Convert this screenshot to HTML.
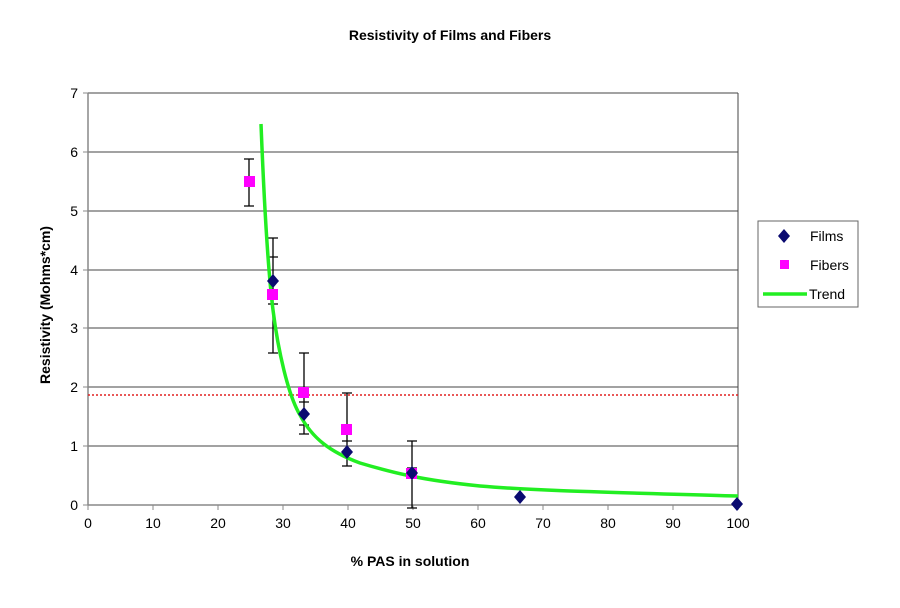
<!DOCTYPE html>
<html><head><style>body{margin:0;background:#fff}svg{display:block}text{font-family:"Liberation Sans",Arial,sans-serif}</style></head><body>
<svg width="900" height="608" viewBox="0 0 900 608" xmlns="http://www.w3.org/2000/svg">
<rect width="900" height="608" fill="#fff"/>
<text x="450" y="40" font-size="14" font-weight="bold" text-anchor="middle">Resistivity of Films and Fibers</text>
<g stroke="#444" stroke-width="1">
<line x1="88" y1="93" x2="738" y2="93"/><line x1="88" y1="152" x2="738" y2="152"/><line x1="88" y1="211" x2="738" y2="211"/><line x1="88" y1="270" x2="738" y2="270"/><line x1="88" y1="328" x2="738" y2="328"/><line x1="88" y1="387" x2="738" y2="387"/><line x1="88" y1="446" x2="738" y2="446"/>
<line x1="738" y1="93" x2="738" y2="504"/>
</g>
<g stroke="#888" stroke-width="1.5"><line x1="88" y1="93" x2="88" y2="505"/><line x1="88" y1="505" x2="738" y2="505"/></g>
<g stroke="#888" stroke-width="1">
<line x1="83" y1="93" x2="88" y2="93"/><line x1="83" y1="152" x2="88" y2="152"/><line x1="83" y1="211" x2="88" y2="211"/><line x1="83" y1="270" x2="88" y2="270"/><line x1="83" y1="328" x2="88" y2="328"/><line x1="83" y1="387" x2="88" y2="387"/><line x1="83" y1="446" x2="88" y2="446"/><line x1="83" y1="505" x2="88" y2="505"/>
<line x1="88" y1="505" x2="88" y2="510"/><line x1="153" y1="505" x2="153" y2="510"/><line x1="218" y1="505" x2="218" y2="510"/><line x1="283" y1="505" x2="283" y2="510"/><line x1="348" y1="505" x2="348" y2="510"/><line x1="413" y1="505" x2="413" y2="510"/><line x1="478" y1="505" x2="478" y2="510"/><line x1="543" y1="505" x2="543" y2="510"/><line x1="608" y1="505" x2="608" y2="510"/><line x1="673" y1="505" x2="673" y2="510"/><line x1="738" y1="505" x2="738" y2="510"/>
</g>
<g font-size="14" text-anchor="end">
<text x="78" y="98">7</text><text x="78" y="157">6</text><text x="78" y="216">5</text><text x="78" y="275">4</text><text x="78" y="333">3</text><text x="78" y="392">2</text><text x="78" y="451">1</text><text x="78" y="510">0</text>
</g>
<g font-size="14" text-anchor="middle">
<text x="88" y="528">0</text><text x="153" y="528">10</text><text x="218" y="528">20</text><text x="283" y="528">30</text><text x="348" y="528">40</text><text x="413" y="528">50</text><text x="478" y="528">60</text><text x="543" y="528">70</text><text x="608" y="528">80</text><text x="673" y="528">90</text><text x="738" y="528">100</text>
</g>
<text x="410" y="566" font-size="14" font-weight="bold" text-anchor="middle">% PAS in solution</text>
<text transform="translate(50,305) rotate(-90)" font-size="14" font-weight="bold" text-anchor="middle">Resistivity (Mohms*cm)</text>
<line x1="88" y1="395" x2="738" y2="395" stroke="#e02020" stroke-width="1.5" stroke-dasharray="2,2"/>
<g stroke="#000" stroke-width="1.3" fill="none">
<path d="M249 159V206M244 159h10M244 206h10"/>
<path d="M273 238V353M268 238h10M268 353h10M268 257h10M268 304h10"/>
<path d="M304 353V434M299 353h10M299 402h10M299 425h10M299 434h10"/>
<path d="M347 393V466M342 393h10M342 441h10M342 466h10"/>
<path d="M412 441V508M407 441h10M407 468h10M407 475h10M407 508h10"/>
</g>
<path d="M261 124 C264 200, 268 270, 273 310 C278 350, 288 395, 300 415 C312 438, 330 452, 360 463 C390 472, 420 480, 480 486 C540 491, 600 492, 738 496" stroke="#22ee22" stroke-width="3.5" fill="none" stroke-linejoin="round"/>
<g fill="#ff00ff">
<rect x="244" y="176" width="11" height="11"/><rect x="267" y="289" width="11" height="11"/><rect x="298" y="387" width="11" height="11"/><rect x="341" y="424" width="11" height="11"/><rect x="406" y="468" width="11" height="11"/>
</g>
<g fill="#0a0a70">
<path d="M273 274l6 7-6 7-6-7z"/><path d="M304 407l6 7-6 7-6-7z"/><path d="M347 445l6 7-6 7-6-7z"/><path d="M412 466l6 7-6 7-6-7z"/><path d="M520 490l6 7-6 7-6-7z"/><path d="M737 497l6 7-6 7-6-7z"/>
</g>
<rect x="758" y="221" width="100" height="86" fill="#fff" stroke="#666" stroke-width="1"/>
<path d="M784 229l6 7-6 7-6-7z" fill="#0a0a70"/>
<text x="810" y="241" font-size="14">Films</text>
<rect x="780" y="260" width="9" height="9" fill="#ff00ff"/>
<text x="810" y="270" font-size="14">Fibers</text>
<line x1="763" y1="294" x2="807" y2="294" stroke="#22ee22" stroke-width="3.5"/>
<text x="809" y="299" font-size="14">Trend</text>
</svg>
</body></html>
